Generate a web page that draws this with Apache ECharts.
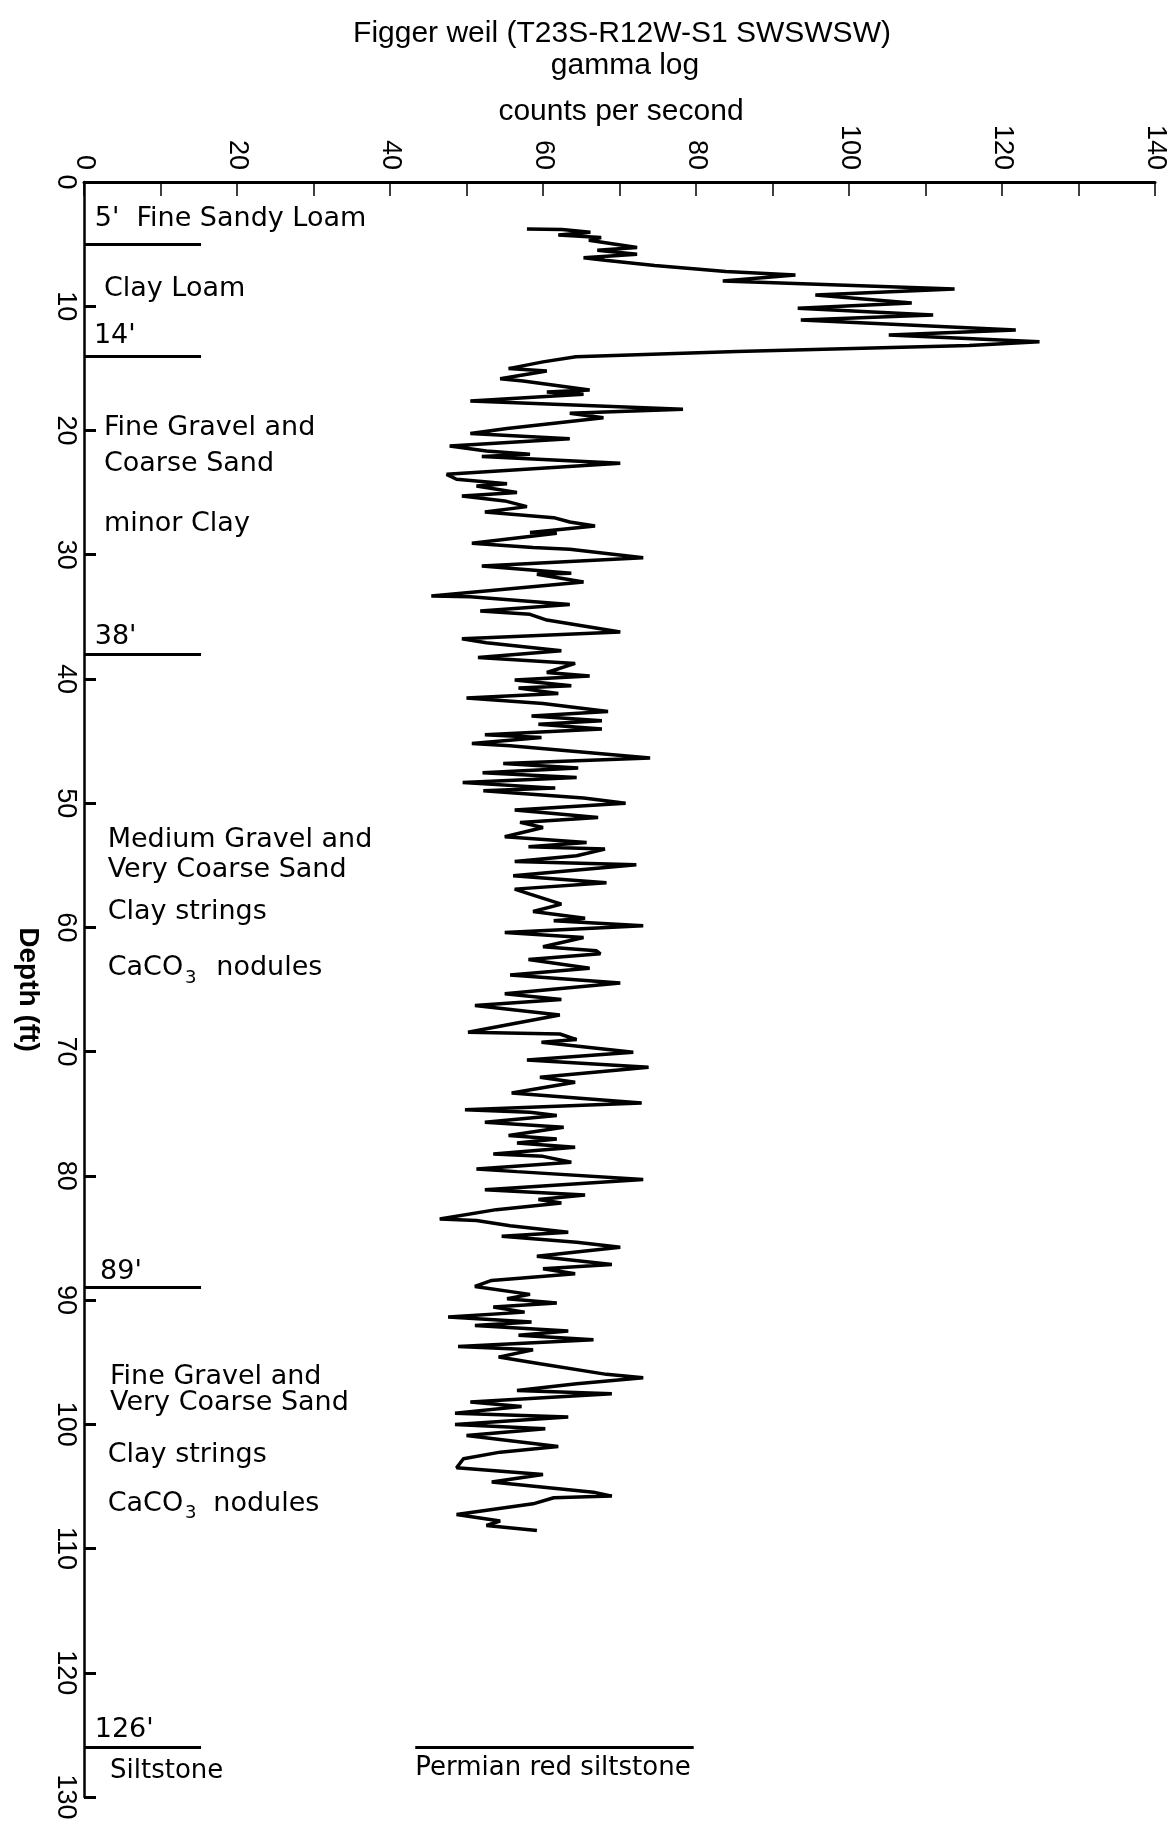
<!DOCTYPE html>
<html>
<head>
<meta charset="utf-8">
<style>
  html, body { margin: 0; background: #fff; }
  #chart { width: 1172px; height: 1823px; }
</style>
</head>
<body>
<div id="chart"></div>
<script src="https://cdnjs.cloudflare.com/ajax/libs/echarts/6.0.0/echarts.min.js"></script>
<script>
// gamma log: depth (ft) and counts per second
var depthFt = [
  3.78, 3.83, 4.05, 4.26, 4.47, 4.69, 5.28, 5.5, 5.82, 6.09, 6.3, 6.73, 7.21, 7.48, 7.96,
  8.61, 9.09, 9.74, 10.16, 10.7, 11.1, 11.91, 12.31, 12.85, 13.17, 13.65, 14.06,
  14.48, 15.02, 15.21, 15.83, 16.01, 16.74, 16.9, 17.09, 17.62, 18.29, 18.62, 18.97,
  19.85, 20.25, 20.66, 21.25, 21.65, 21.92, 22.1, 22.64, 23.53, 23.93, 24.28, 24.47,
  25.0, 25.27, 25.67, 26.13, 26.56, 27.02, 27.37, 27.69, 28.22, 28.28, 29.08, 29.43,
  29.57, 30.24, 30.91, 31.5, 31.58, 32.2, 33.32, 33.38, 34.0, 34.53, 34.8, 35.26,
  36.22, 36.76, 37.08, 37.73,
  38.27, 38.75, 39.48, 39.77, 40.09, 40.55, 40.74, 41.17, 41.54, 41.97, 42.62, 42.99,
  43.37, 43.64, 44.04, 44.5, 44.71, 45.19, 45.38, 46.37, 46.8, 47.18, 47.55, 47.93,
  48.33, 48.79, 49.0, 49.59, 50.0, 50.56, 51.15, 51.55, 51.96, 52.71, 53.16, 53.51,
  53.7, 54.24, 54.69, 54.96, 55.85, 56.41, 56.92, 57.32, 58.13, 58.72, 59.26, 59.47,
  59.87, 60.41, 60.81, 61.56, 61.89,
  62.13, 62.59, 63.29, 63.83, 64.47, 65.35, 65.81, 66.29, 67.05, 67.69, 68.44, 68.58,
  69.03, 69.25, 70.05, 70.67, 71.26, 72.06, 72.47, 73.33, 74.13, 74.67, 74.88, 75.15,
  75.69, 76.09, 76.76, 77.03, 77.35, 77.7, 78.24, 78.43, 78.91, 79.45, 79.66, 80.3,
  81.11, 81.54, 81.91, 82.18, 82.72, 83.47, 83.6, 84.01, 84.54, 84.87, 85.35, 85.75,
  86.48, 87.13, 87.48, 87.88, 88.42, 88.9, 89.54, 89.89, 90.24, 90.56, 90.97, 91.37,
  91.77, 92.04, 92.49, 92.84, 93.19, 93.73, 94.0, 94.59, 95.13, 95.98, 96.25, 96.74,
  97.27, 97.54, 98.21, 98.56, 99.1, 99.42, 100.01, 100.36, 100.9, 101.78, 102.24,
  102.77, 103.5, 104.04, 104.65, 105.46, 105.78, 105.91, 106.4, 107.26, 107.79,
  108.14, 108.54
];
var cps = [
  57.9, 62.5, 66.2, 62.0, 67.6, 66.0, 72.3, 67.1, 72.3, 65.3, 68.1, 74.6, 83.9, 93.0, 83.5,
  113.8, 95.6, 108.2, 93.3, 111.0, 93.7, 121.8, 105.2, 124.9, 115.7, 85.3, 64.3,
  60.0, 55.5, 60.5, 54.4, 57.4, 66.1, 60.5, 65.3, 50.5, 78.3, 63.5, 67.9,
  55.3, 50.5, 63.5, 47.8, 52.6, 58.3, 52.0, 70.1, 47.4, 48.7, 55.3, 51.3,
  56.6, 49.4, 55.0, 57.9, 52.4, 61.4, 63.5, 66.8, 58.3, 61.8, 50.7, 58.7,
  63.5, 73.1, 52.0, 63.7, 59.2, 65.3, 45.4, 50.5, 63.5, 51.8, 58.3, 60.5,
  70.1, 49.4, 52.6, 62.4,
  51.5, 64.2, 60.5, 66.1, 56.3, 63.7, 56.8, 62.0, 50.0, 60.0, 68.5, 58.5,
  67.7, 59.4, 67.7, 52.4, 59.8, 50.7, 55.7, 74.0, 54.8, 64.6, 52.1, 64.4,
  49.5, 61.6, 52.2, 65.3, 70.8, 56.3, 67.2, 57.0, 60.0, 55.0, 65.7, 58.1,
  68.1, 64.4, 56.3, 72.2, 56.1, 68.3, 56.3, 58.3, 62.4, 58.7, 65.5, 61.4,
  73.1, 55.0, 65.3, 60.0, 67.0,
  67.5, 58.1, 66.1, 55.7, 70.1, 55.0, 62.4, 51.1, 62.2, 56.6, 50.2, 62.2,
  64.4, 59.8, 71.8, 57.9, 73.8, 59.6, 64.2, 55.9, 72.9, 49.8, 58.3, 61.8,
  52.4, 62.7, 55.5, 61.8, 56.6, 64.2, 53.5, 60.0, 63.7, 51.3, 56.6, 73.1,
  52.4, 65.5, 59.4, 62.4, 53.9, 46.5, 51.3, 55.7, 63.3, 54.6, 64.4, 70.1,
  59.2, 69.0, 60.0, 64.2, 53.3, 51.1, 58.3, 55.3, 61.8, 53.5, 57.6, 47.6,
  58.5, 51.1, 63.3, 56.8, 66.6, 48.9, 58.7, 54.2, 59.6, 68.3, 73.1, 64.4,
  56.6, 69.0, 50.5, 57.2, 48.5, 63.3, 48.5, 60.3, 50.0, 62.0, 54.4,
  49.6, 48.7, 60.0, 53.3, 66.6, 69.0, 61.4, 58.7, 48.7, 54.4,
  52.6, 59.2
];

// lithology boundaries (ft) and the short marker they get on the left
var boundaryDepths = [5, 14, 38, 89, 126];
var boundaryReach = 15.3;
var permianSpan = [43.3, 79.7];

// layer notes: [counts, depth, text]
var notes = [
  [1.4, 3.0, "5'  Fine Sandy Loam"],
  [2.6, 8.6, 'Clay Loam'],
  [1.3, 12.4, "14'"],
  [2.6, 19.8, 'Fine Gravel and'],
  [2.6, 22.7, 'Coarse Sand'],
  [2.6, 27.5, 'minor Clay'],
  [1.4, 36.6, "38'"],
  [3.1, 53.0, 'Medium Gravel and'],
  [3.1, 55.4, 'Very Coarse Sand'],
  [3.1, 58.8, 'Clay strings'],
  [3.1, 63.3, 'CaCO'],
  [17.3, 63.3, 'nodules'],
  [2.1, 87.7, "89'"],
  [3.4, 96.2, 'Fine Gravel and'],
  [3.4, 98.3, 'Very Coarse Sand'],
  [3.1, 102.5, 'Clay strings'],
  [3.1, 106.4, 'CaCO'],
  [16.9, 106.4, 'nodules'],
  [1.4, 124.6, "126'"]
];
// bedrock notes, set a little smaller in the figure
var baseNotes = [
  [3.4, 127.9, 'Siltstone'],
  [43.3, 127.7, 'Permian red siltstone']
];
// subscript "3" of CaCO3
var subNotes = [
  [13.2, 64.1, '3'],
  [13.2, 107.2, '3']
];

var chart = echarts.init(document.getElementById('chart'), null, { renderer: 'canvas' });

var logData = depthFt.map(function (d, i) { return [cps[i], d]; });

var boundaryLines = boundaryDepths.map(function (d) {
  return [{ coord: [0, d] }, { coord: [boundaryReach, d] }];
});
boundaryLines.push([{ coord: [permianSpan[0], 126] }, { coord: [permianSpan[1], 126] }]);

function toItems(list) {
  return list.map(function (n) { return { value: [n[0], n[1]], name: n[2] }; });
}

function noteSeries(list, size) {
  return {
    type: 'scatter',
    data: toItems(list),
    symbolSize: 0,
    silent: true,
    itemStyle: { opacity: 1 },
    label: {
      show: true,
      position: 'right',
      distance: 0,
      formatter: '{b}',
      color: '#000',
      fontSize: size,
      fontFamily: 'DejaVu Sans'
    }
  };
}

var labelFont = 'Liberation Sans';
var titleFont = '30px "Liberation Sans"';

var option = {
  animation: false,
  backgroundColor: '#fff',
  grid: { left: 84, right: 17, top: 182, bottom: 26 },
  graphic: [
    { type: 'text', x: 622, y: 33.5, style: { text: 'Figger weil (T23S-R12W-S1 SWSWSW)', fill: '#000',
      font: titleFont, textAlign: 'center', textVerticalAlign: 'middle' } },
    { type: 'text', x: 625, y: 66, style: { text: 'gamma log', fill: '#000',
      font: titleFont, textAlign: 'center', textVerticalAlign: 'middle' } },
    { type: 'text', x: 621, y: 112, style: { text: 'counts per second', fill: '#000',
      font: titleFont, textAlign: 'center', textVerticalAlign: 'middle' } }
  ],
  xAxis: {
    type: 'value',
    position: 'top',
    min: 0,
    max: 140,
    interval: 10,
    axisLine: { lineStyle: { color: '#000', width: 3 } },
    axisTick: { inside: true, length: 14, lineStyle: { color: '#000', width: 1.5 } },
    axisLabel: {
      rotate: -90,
      margin: 12,
      color: '#000',
      fontSize: 27,
      fontFamily: labelFont,
      formatter: function (v) { return v % 20 === 0 ? String(v) : ''; }
    },
    splitLine: { show: false }
  },
  yAxis: {
    type: 'value',
    inverse: true,
    min: 0,
    max: 130,
    interval: 10,
    name: 'Depth (ft)',
    nameLocation: 'middle',
    nameRotate: -90,
    nameGap: 42,
    nameTextStyle: { color: '#000', fontSize: 28, fontWeight: 'bold', fontFamily: labelFont },
    axisLine: { lineStyle: { color: '#000', width: 2.5 } },
    axisTick: { inside: true, length: 12, lineStyle: { color: '#000', width: 3 } },
    axisLabel: { rotate: -90, margin: 5, color: '#000', fontSize: 27, fontFamily: labelFont },
    splitLine: { show: false }
  },
  series: [
    {
      type: 'line',
      data: logData,
      showSymbol: false,
      symbol: 'none',
      silent: true,
      lineStyle: { color: '#000', width: 3.5 },
      markLine: {
        silent: true,
        symbol: ['none', 'none'],
        label: { show: false },
        lineStyle: { color: '#000', width: 3, type: 'solid' },
        data: boundaryLines
      }
    },
    noteSeries(notes, 27),
    noteSeries(baseNotes, 26),
    noteSeries(subNotes, 18)
  ]
};

chart.setOption(option);
window.addEventListener('resize', chart.resize);
</script>
</body>
</html>
